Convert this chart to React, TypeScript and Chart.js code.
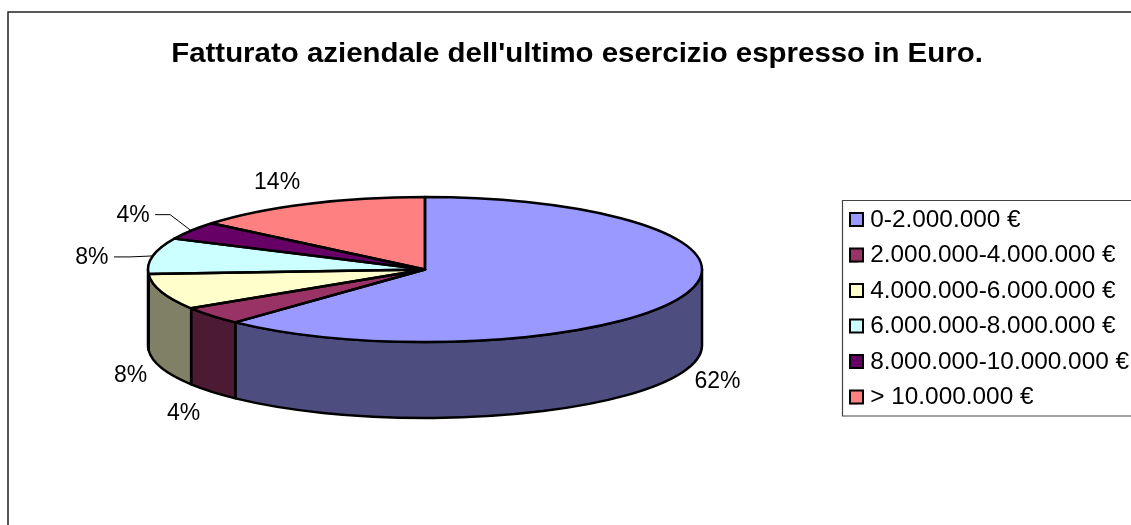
import React, { useEffect, useRef } from "react";
import { Chart, registerables } from "chart.js";

Chart.register(...registerables);

const titleText = "Fatturato aziendale dell'ultimo esercizio espresso in Euro.";
const categories = [
  "0-2.000.000 €",
  "2.000.000-4.000.000 €",
  "4.000.000-6.000.000 €",
  "6.000.000-8.000.000 €",
  "8.000.000-10.000.000 €",
  "> 10.000.000 €",
];
const shares = [62, 4, 8, 8, 4, 14];
const topColors = ["#9999FF", "#993366", "#FFFFCC", "#CCFFFF", "#660066", "#FF8080"];
const wallColors = ["#4D4D80", "#4D1A33", "#808066", "#668080", "#330033", "#804040"];
// label centre relative to the slice's rim midpoint
const labelOffsets = [[35, 85], [-28, 98], [-31, 84], [-61, 2], [-58, -15], [-30, -21]];
const leaderKinks = [null, null, null, [-23, 1], [-21, -16], null];

const FONT = "'Liberation Sans', Arial, sans-serif";
const CX = 425;
const CY = 269.5;
const RX = 277;
const RY = 72.5;
const DEPTH = 76;
const LEGEND_STRETCH = 1.06;
const TITLE_STRETCH = 1.09;
const LEGEND_SIZE = 23;
const LEGEND_PAD = 12.5;
const LEGEND_X = 849;
const LEGEND_Y = 209;
const OUTLINE = 2.5;

const pie3d = {
  id: "pie3d",
  afterLayout(chart: any) {
    const legend = chart.legend;
    const pad = legend.options.labels.padding;
    const w = legend.right - legend.left;
    const h = legend.bottom - legend.top;
    legend.left = LEGEND_X - pad;
    legend.right = legend.left + w;
    legend.top = LEGEND_Y - pad;
    legend.bottom = legend.top + h;
    const title = chart.titleBlock;
    title.left = 577 - 500;
    title.right = 577 + 500;
    if (!chart.$stretched) {
      chart.$stretched = true;
      const wrap = (box: any, ox: number, sx: number) => {
        const orig = box.draw;
        box.draw = function (...args: any[]) {
          const c = chart.ctx;
          c.save();
          c.translate(ox, 0);
          c.scale(sx, 1);
          c.translate(-ox, 0);
          orig.apply(this, args);
          c.restore();
        };
      };
      wrap(legend, LEGEND_X, LEGEND_STRETCH);
      wrap(title, 577, TITLE_STRETCH);
    }
  },
  beforeDraw(chart: any) {
    const c = chart.ctx;
    c.save();
    c.fillStyle = "#fff";
    c.fillRect(0, 0, chart.width, chart.height);
    c.strokeStyle = "#222";
    c.lineWidth = 1.5;
    c.beginPath();
    c.moveTo(8, chart.height);
    c.lineTo(8, 12);
    c.lineTo(chart.width, 12);
    c.stroke();
    c.strokeStyle = "#444";
    c.lineWidth = 1.2;
    c.beginPath();
    c.moveTo(chart.width, 200.5);
    c.lineTo(842.5, 200.5);
    c.lineTo(842.5, 416);
    c.lineTo(chart.width, 416);
    c.stroke();
    c.restore();
  },
  beforeDatasetDraw(chart: any, args: any) {
    const c = chart.ctx;
    const arcs = chart.getDatasetMeta(args.index).data;
    c.save();
    c.lineWidth = OUTLINE;
    c.lineJoin = "round";
    c.strokeStyle = "#000";
    arcs.forEach((arc: any, i: number) => {
      const a0 = Math.max(arc.startAngle, 0);
      const a1 = Math.min(arc.endAngle, Math.PI);
      if (a1 <= a0) return;
      c.beginPath();
      c.ellipse(CX, CY, RX, RY, 0, a0, a1);
      c.lineTo(CX + RX * Math.cos(a1), CY + RY * Math.sin(a1) + DEPTH);
      c.ellipse(CX, CY + DEPTH, RX, RY, 0, a1, a0, true);
      c.closePath();
      c.fillStyle = wallColors[i];
      c.fill();
      c.stroke();
    });
    c.restore();
    const first = arcs[0];
    c.save();
    c.translate(CX, CY);
    c.scale(1, RY / first.outerRadius);
    c.translate(-first.x, -first.y);
  },
  afterDatasetDraw(chart: any, args: any) {
    const c = chart.ctx;
    c.restore();
    const arcs = chart.getDatasetMeta(args.index).data;
    c.save();
    c.lineWidth = OUTLINE;
    c.lineJoin = "round";
    c.strokeStyle = "#000";
    arcs.forEach((arc: any) => {
      c.beginPath();
      c.moveTo(CX, CY);
      c.ellipse(CX, CY, RX, RY, 0, arc.startAngle, arc.endAngle);
      c.closePath();
      c.stroke();
    });
    c.restore();
  },
  afterDraw(chart: any) {
    const c = chart.ctx;
    const arcs = chart.getDatasetMeta(0).data;
    const total = shares.reduce((a, b) => a + b, 0);
    c.save();
    // legend swatches, on top of the narrow native boxes
    c.lineWidth = 2;
    c.strokeStyle = "#000";
    topColors.forEach((color, i) => {
      const yc = LEGEND_Y + i * (LEGEND_SIZE + LEGEND_PAD) + LEGEND_SIZE / 2 - 1;
      c.fillStyle = color;
      c.fillRect(LEGEND_X + 1, yc - 6.5, 13, 13);
      c.strokeRect(LEGEND_X + 1, yc - 6.5, 13, 13);
    });
    c.font = `23px ${FONT}`;
    c.textAlign = "center";
    c.textBaseline = "middle";
    arcs.forEach((arc: any, i: number) => {
      const mid = (arc.startAngle + arc.endAngle) / 2;
      const ax = CX + RX * Math.cos(mid);
      const ay = CY + RY * Math.sin(mid);
      const lx = ax + labelOffsets[i][0];
      const ly = ay + labelOffsets[i][1];
      c.fillStyle = "#000";
      c.fillText(`${Math.round((shares[i] / total) * 100)}%`, lx, ly);
      const kink = leaderKinks[i];
      if (kink) {
        c.strokeStyle = "#000";
        c.lineWidth = 1;
        c.beginPath();
        c.moveTo(lx + 22, ly - 1);
        c.lineTo(ax + kink[0], ay + kink[1]);
        c.lineTo(ax, ay);
        c.stroke();
      }
    });
    c.restore();
  },
};

export default function App() {
  const ref = useRef<HTMLCanvasElement>(null);
  useEffect(() => {
    const chart = new Chart(ref.current as HTMLCanvasElement, {
      type: "pie",
      data: {
        labels: categories,
        datasets: [
          {
            data: shares,
            backgroundColor: topColors,
            borderWidth: 0,
            radius: RX,
            clip: false,
          } as any,
        ],
      },
      options: {
        responsive: false,
        animation: false,
        plugins: {
          tooltip: { enabled: false },
          title: {
            display: true,
            text: titleText,
            color: "#000",
            font: { family: FONT, size: 27, weight: "bold" },
            padding: { top: 38, bottom: 10 },
          },
          legend: {
            display: true,
            position: "right",
            align: "start",
            labels: {
              color: "#000",
              font: { family: FONT, size: LEGEND_SIZE },
              boxWidth: 8.5,
              boxHeight: 13,
              padding: LEGEND_PAD,
              generateLabels: () =>
                categories.map((text, i) => ({
                  text,
                  fillStyle: topColors[i],
                  strokeStyle: "#000",
                  lineWidth: 0,
                  index: i,
                  hidden: false,
                })),
            },
          },
        },
      },
      plugins: [pie3d],
    } as any);
    return () => chart.destroy();
  }, []);
  return (
    <div style={{ position: "absolute", left: 0, top: 0, width: 1131, height: 525, overflow: "hidden", background: "#fff" }}>
      <canvas ref={ref} width={1131} height={525} style={{ display: "block" }} />
    </div>
  );
}
